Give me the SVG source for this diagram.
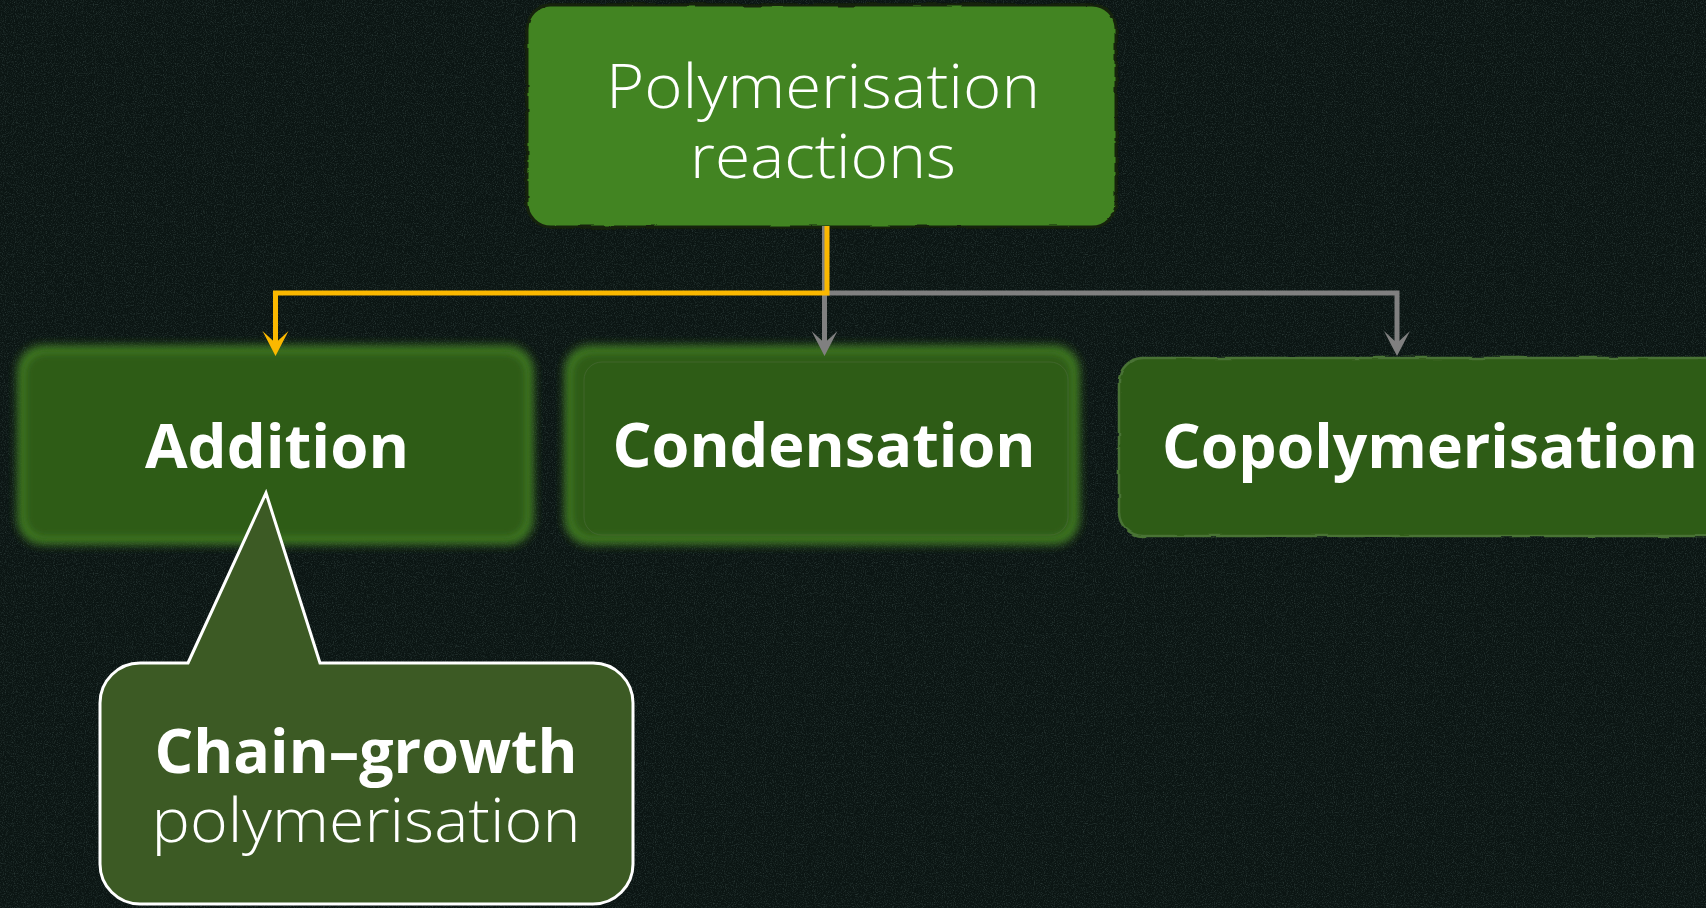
<svg xmlns="http://www.w3.org/2000/svg" width="1706" height="908" viewBox="0 0 1706 908">
  <style>
    .light { font-family: "Open Sans", "Liberation Sans", sans-serif; font-weight: 300; font-size: 60px; fill: #ffffff; text-anchor: middle; }
    .bold { font-family: "Open Sans", "Liberation Sans", sans-serif; font-weight: 700; font-size: 60px; fill: #ffffff; text-anchor: middle; }
    .conn { fill: none; stroke-width: 5; }
    .grey { stroke: #808080; }
    .yellow { stroke: #fbb800; }
  </style>
  <defs>
    <filter id="noise" x="0" y="0" width="100%" height="100%">
      <feTurbulence type="fractalNoise" baseFrequency="0.9" numOctaves="2" seed="4" result="n"/>
      <feColorMatrix in="n" type="matrix" values="0 0 0 0 0.2  0 0 0 0 0.32  0 0 0 0 0.3  0 0 0 1.2 -0.55"/>
    </filter>
    <filter id="rough" x="-5%" y="-5%" width="110%" height="110%">
      <feTurbulence type="fractalNoise" baseFrequency="0.03 0.12" numOctaves="2" seed="7" result="t"/>
      <feDisplacementMap in="SourceGraphic" in2="t" scale="3" xChannelSelector="R" yChannelSelector="G"/>
    </filter>
    <filter id="soft" x="-10%" y="-10%" width="120%" height="120%">
      <feGaussianBlur stdDeviation="4"/>
    </filter>
    <filter id="soft2" x="-10%" y="-10%" width="120%" height="120%">
      <feGaussianBlur stdDeviation="3"/>
    </filter>
    <marker id="arrowY" viewBox="-26 -14 27 28" refX="-12" refY="0" markerWidth="27" markerHeight="28" markerUnits="userSpaceOnUse" orient="auto">
      <path d="M0,0 L-25,-13 L-13,0 L-25,13 Z" fill="#fbb800"/>
    </marker>
    <marker id="arrowG" viewBox="-26 -14 27 28" refX="-12" refY="0" markerWidth="27" markerHeight="28" markerUnits="userSpaceOnUse" orient="auto">
      <path d="M0,0 L-25,-13 L-13,0 L-25,13 Z" fill="#808080"/>
    </marker>
  </defs>

  <!-- background -->
  <rect x="0" y="0" width="1706" height="908" fill="#0b1513"/>
  <rect x="0" y="0" width="1706" height="908" filter="url(#noise)" opacity="0.5"/>

  <!-- top node -->
  <g id="node-polymerisation">
    <rect x="527" y="5" width="589" height="222" rx="24" fill="#428422" stroke="#15240c" stroke-width="3" filter="url(#rough)"/>
    <text class="light" x="823" y="108" textLength="434" lengthAdjust="spacingAndGlyphs">Polymerisation</text>
    <text class="light" x="823" y="178" textLength="266" lengthAdjust="spacingAndGlyphs">reactions</text>
  </g>

  <!-- Addition -->
  <g id="node-addition">
    <rect x="17" y="345" width="517" height="200" rx="26" fill="#3c7520" filter="url(#soft)"/>
    <rect x="26" y="354" width="499" height="182" rx="20" fill="#2f5b19" filter="url(#soft2)"/>
    <text class="bold" x="277" y="468" textLength="264" lengthAdjust="spacingAndGlyphs">Addition</text>
  </g>

  <!-- Condensation -->
  <g id="node-condensation">
    <rect x="564" y="345" width="516" height="200" rx="26" fill="#3c7520" filter="url(#soft)"/>
    <rect x="573" y="354" width="498" height="182" rx="20" fill="#2f5b19" filter="url(#soft2)"/>
    <rect x="584" y="362" width="484" height="173" rx="18" fill="none" stroke="#4c6a3a" stroke-width="1" opacity="0.6"/>
    <text class="bold" x="824" y="467" textLength="423" lengthAdjust="spacingAndGlyphs">Condensation</text>
  </g>

  <!-- Copolymerisation -->
  <g id="node-copolymerisation">
    <rect x="1119" y="358" width="630" height="178" rx="24" fill="#2f5b19" stroke="#4a7335" stroke-width="2.5" filter="url(#rough)"/>
    <text class="bold" x="1430" y="468" textLength="536" lengthAdjust="spacingAndGlyphs">Copolymerisation</text>
  </g>

  <!-- connectors (drawn above the node glows) -->
  <g id="connectors">
    <path class="conn grey" d="M824.5,226 L824.5,293 L1397,293 L1397,344" marker-end="url(#arrowG)"/>
    <path class="conn grey" d="M824.5,293 L824.5,344" marker-end="url(#arrowG)"/>
    <path class="conn yellow" d="M827,226 L827,293 L275.5,293 L275.5,344" marker-end="url(#arrowY)"/>
  </g>

  <!-- Callout -->
  <g id="callout-chain-growth">
    <path d="M188,663 L266,493 L320,663 L593,663 A40,40 0 0 1 633,703 L633,864 A40,40 0 0 1 593,904 L140,904 A40,40 0 0 1 100,864 L100,703 A40,40 0 0 1 140,663 Z" fill="#3c5a24" stroke="#ffffff" stroke-width="3" stroke-linejoin="miter"/>
    <text class="bold" x="366" y="773" textLength="423" lengthAdjust="spacingAndGlyphs">Chain–growth</text>
    <text class="light" x="366" y="842" textLength="429" lengthAdjust="spacingAndGlyphs">polymerisation</text>
  </g>
</svg>
